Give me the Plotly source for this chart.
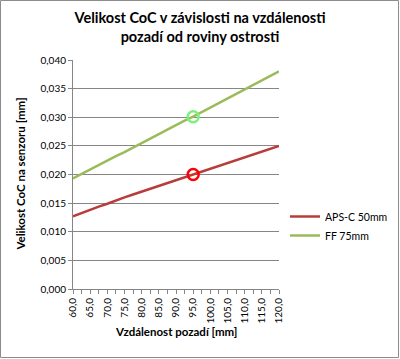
import plotly.graph_objects as go

distance_mm = [60.0, 62.5, 65.0, 67.5, 70.0, 72.5, 75.0, 77.5, 80.0, 82.5, 85.0, 87.5, 90.0,
               92.5, 95.0, 97.5, 100.0, 102.5, 105.0, 107.5, 110.0, 112.5, 115.0, 117.5, 120.0]
aps_c_50 = [0.0127, 0.0133, 0.0139, 0.0144, 0.0149, 0.0155, 0.0160, 0.0165, 0.0170, 0.0176,
            0.0181, 0.0186, 0.0191, 0.0196, 0.0200, 0.0205, 0.0210, 0.0216, 0.0221, 0.0226,
            0.0231, 0.0236, 0.0241, 0.0245, 0.0250]
ff_75 = [0.0193, 0.0201, 0.0208, 0.0216, 0.0224, 0.0232, 0.0239, 0.0247, 0.0255, 0.0263,
         0.0270, 0.0278, 0.0286, 0.0294, 0.0301, 0.0309, 0.0317, 0.0325, 0.0333, 0.0341,
         0.0348, 0.0356, 0.0364, 0.0372, 0.0380]
highlight_idx = 14  # 95,0 mm

FONT = "Lato, 'Open Sans', sans-serif"
RED = "#B83C3A"
GREEN = "#9BBB59"

fig = go.Figure()
fig.add_trace(go.Scatter(x=distance_mm, y=aps_c_50, mode="lines", name="APS-C 50mm",
                         line=dict(color=RED, width=2.5)))
fig.add_trace(go.Scatter(x=distance_mm, y=ff_75, mode="lines", name="FF 75mm",
                         line=dict(color=GREEN, width=2.5)))
fig.add_trace(go.Scatter(x=[distance_mm[highlight_idx]], y=[aps_c_50[highlight_idx]], mode="markers",
                         showlegend=False,
                         marker=dict(symbol="circle-open", size=11, color="#FF0000", line=dict(width=2.5))))
fig.add_trace(go.Scatter(x=[distance_mm[highlight_idx]], y=[ff_75[highlight_idx]], mode="markers",
                         showlegend=False,
                         marker=dict(symbol="circle-open", size=11, color="#7CF07C", line=dict(width=2.5))))

L, R, T, B = 73, 121, 60, 70
W, H = 400, 359
pw, ph = W - L - R, H - T - B

def px_x(p):
    return (p - L) / pw

def px_y(p):
    return (H - B - p) / ph

fig.add_shape(type="rect", xref="paper", yref="paper",
              x0=px_x(0.5), x1=px_x(398.5), y0=px_y(357.5), y1=px_y(0.5),
              line=dict(color="#8C8C8C", width=1), layer="below")

fig.add_annotation(text="<b>Velikost CoC na senzoru [mm]</b>", xref="paper", yref="paper",
                   x=px_x(20), y=0.5, textangle=-90, showarrow=False,
                   xanchor="center", yanchor="middle", font=dict(family=FONT, size=11.5))
fig.add_annotation(text="<b>Vzdálenost pozadí [mm]</b>", xref="paper", yref="paper",
                   x=0.5, y=px_y(331), showarrow=False,
                   xanchor="center", yanchor="middle", font=dict(family=FONT, size=11.5))

fig.update_layout(
    width=W, height=H,
    margin=dict(l=L, r=R, t=T, b=B, autoexpand=False),
    paper_bgcolor="white", plot_bgcolor="white",
    separators=", ",
    font=dict(family=FONT, size=10, color="#000000"),
    title=dict(text="<b>Velikost CoC v závislosti na vzdálenosti<br>pozadí od roviny ostrosti</b>",
               x=0.5, xanchor="center", y=0.936, yanchor="top",
               font=dict(family=FONT, size=14.5, color="#000000")),
    showlegend=True,
    legend=dict(x=px_x(285), y=px_y(202), xanchor="left", yanchor="top",
                font=dict(family=FONT, size=10.5), tracegroupgap=4,
                bgcolor="rgba(0,0,0,0)", itemwidth=30),
    xaxis=dict(range=[60, 120], tick0=60, dtick=5, tickformat=".1f", tickangle=-90,
               automargin=False,
               showgrid=False, showline=True, linecolor="#868686", linewidth=1,
               ticks="outside", ticklen=4, tickcolor="#868686",
               minor=dict(dtick=2.5, tick0=60, ticks="outside", ticklen=4, tickcolor="#868686"),
               zeroline=False,
               tickfont=dict(family=FONT, size=10)),
    yaxis=dict(range=[0, 0.04], dtick=0.005, tickformat=".3f",
               automargin=False,
               showgrid=True, gridcolor="#868686", gridwidth=1,
               showline=True, linecolor="#868686", linewidth=1,
               ticks="outside", ticklen=4, tickcolor="#868686", zeroline=False,
               tickfont=dict(family=FONT, size=10)),
)

fig.write_html("out.html", config={"displayModeBar": False},
               post_script="document.body.style.margin='0';")
